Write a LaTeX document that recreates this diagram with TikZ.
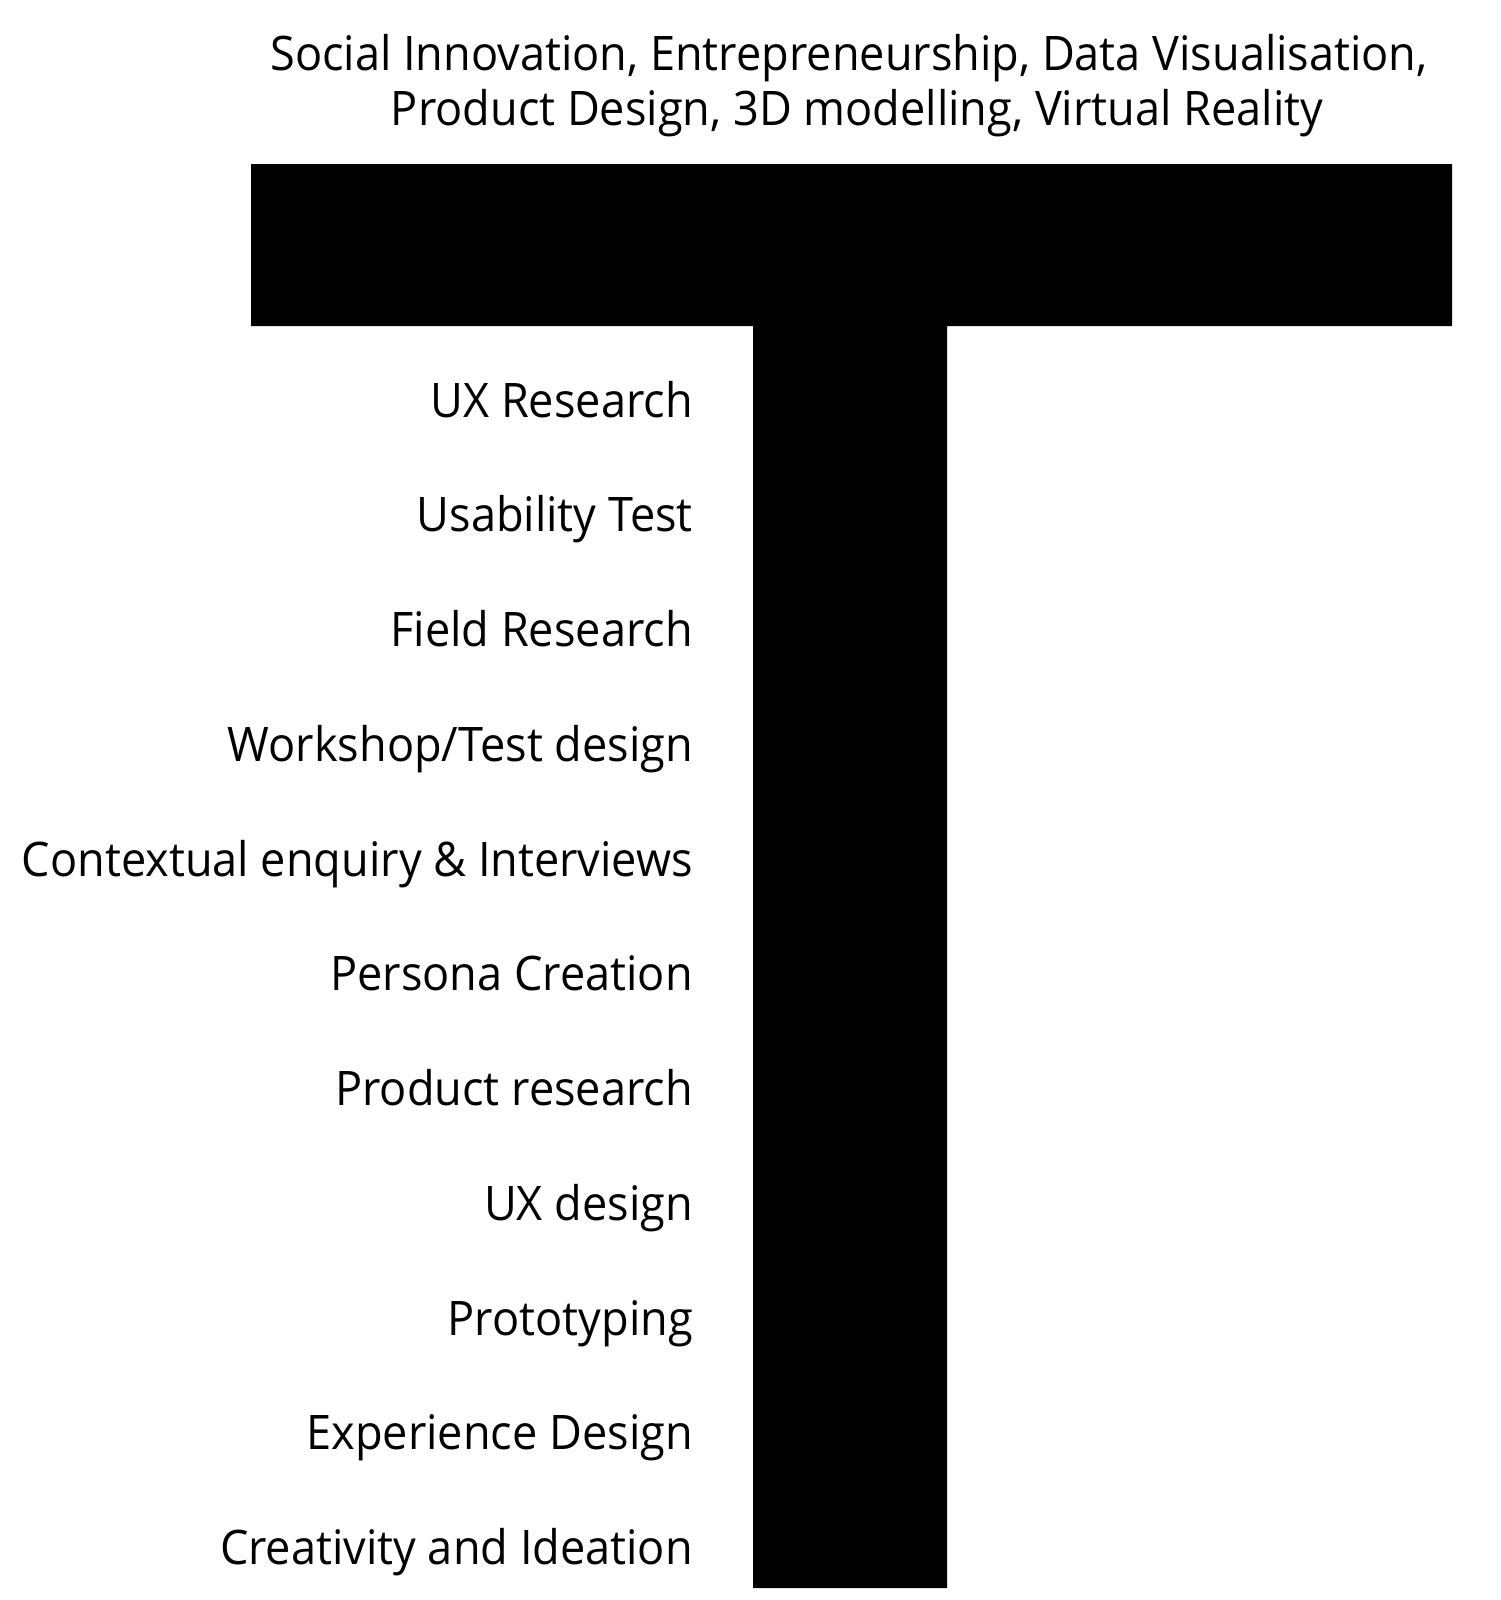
\documentclass[tikz,border=0pt]{standalone}
\usepackage{fontspec}
\setmainfont[FakeStretch=0.947]{Open Sans}
\begin{document}
\begin{tikzpicture}[x=1pt,y=-1pt,
  lbl/.style={anchor=base east,inner sep=0pt,font=\fontsize{47.6}{55}\selectfont},
  toptext/.style={anchor=base,inner sep=0pt,font=\fontsize{47.6}{55}\selectfont}]
\useasboundingbox (0,0) rectangle (1500,1600);
% the T
\fill[black] (251,164) -- (1452,164) -- (1452,326) -- (947,326) -- (947,1588)
  -- (753,1588) -- (753,326) -- (251,326) -- cycle;
% top text
\node[toptext] (top1) at (849,71) {Social Innovation, Entrepreneurship, Data Visualisation,};
\node[toptext] (top2) at (857,126) {Product Design, 3D modelling, Virtual Reality};
% left labels
\foreach \i/\t in {0/{UX Research},1/{Usability Test},2/{Field Research},3/{Workshop/Test design},
  4/{Contextual enquiry \& Interviews},5/{Persona Creation},6/{Product research},7/{UX design},
  8/{Prototyping},9/{Experience Design},10/{Creativity and Ideation}}{
  \node[lbl] (l\i) at (693,{417+114.75*\i}) {\t};
}
\end{tikzpicture}
\end{document}
